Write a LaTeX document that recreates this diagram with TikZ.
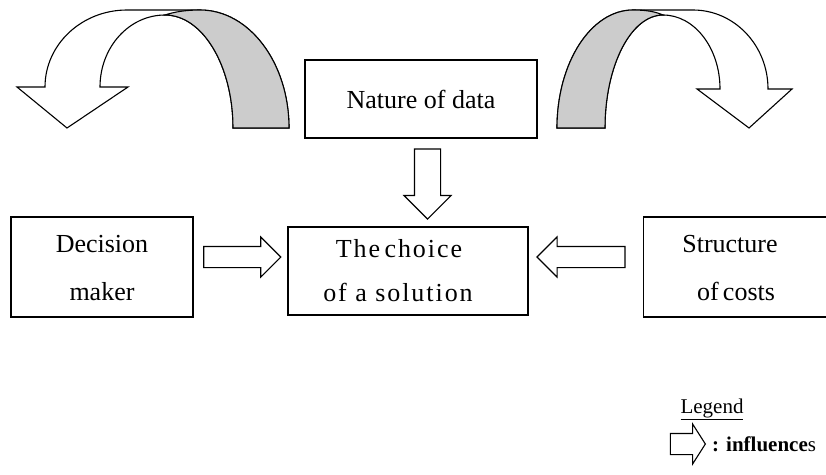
\documentclass[tikz,border=0pt]{standalone}
\usepackage{fontspec}
\setmainfont{Liberation Serif}
\usetikzlibrary{shapes.arrows,calc}
\definecolor{bandgray}{RGB}{204,204,204}
\tikzset{
  stroke/.style={line width=1.1pt, line join=miter},
  box/.style={stroke, draw, fill=white, inner sep=0pt},
  label/.style={inner sep=0pt, anchor=base, font=\fontsize{26}{30}\selectfont},
  widelabel/.style={label, font=\fontsize{26}{30}\selectfont\addfontfeature{LetterSpace=7.5}},
  legendtext/.style={inner sep=0pt, anchor=base west, font=\fontsize{21}{25}\selectfont},
  blockarrow/.style={stroke, draw, fill=white, single arrow, inner xsep=0pt, inner ysep=10pt,
    single arrow head extend=9.5pt, single arrow tip angle=90},
  backband/.style={stroke, draw, fill=bandgray},
  frontband/.style={stroke, draw, fill=white}
}
\begin{document}
\begin{tikzpicture}[x=1pt, y=-1pt]
\useasboundingbox (0,0) rectangle (826,474);
\clip (0,0) rectangle (826,474);

% boxes
\node[box, minimum width=232pt, minimum height=78pt] (nature) at (421,99) {};
\node[box, minimum width=182pt, minimum height=100pt] (dm) at (102,267) {};
\node[box, minimum width=240pt, minimum height=88pt] (choice) at (408,271) {};
\node[box, minimum width=190pt, minimum height=100pt, anchor=west] (costs) at (643,267) {};

% box texts
\node[label] (natureT) at (421,108) {Nature of data};
\node[label] (dmA) at (102,252) {Decision};
\node[label] (dmB) at (102,300) {maker};
\node[widelabel] (choiceA) at (399,257) {The\,choice};
\node[widelabel] (choiceB) at (398,301) {of a solution};
\node[label] (costsA) at (730,252) {Structure};
\node[label] (costsB) at (736,300) {of\,costs};

% straight influence arrows
\node[blockarrow, minimum height=77pt] (a1) at ($(dm.east)!0.5!(choice.west)+(-3.5,-12)$) {};
\node[blockarrow, minimum height=88pt, shape border rotate=180] (a2) at ($(choice.east)!0.5!(costs.west)+(0.5,-12)$) {};
\node[blockarrow, minimum height=70pt, inner xsep=12.5pt, inner ysep=0pt, single arrow head extend=10.5pt, shape border rotate=270]
  (a3) at ($(nature.south)!0.5!(choice.north)+(13,-5)$) {};

% left curved arrow: back band, then front band with head
\draw[frontband] (17,87) -- (67,128) -- (128,87) -- (100,87)
  .. controls (100,47.2) and (129.1,15) .. (165,15)
  .. controls (202.6,15) and (233,65.6) .. (233,128)
  -- (289,128)
  .. controls (289,62.8) and (249.2,10) .. (200,10)
  -- (127,10)
  .. controls (81.7,10) and (45,44.5) .. (45,87) -- cycle;
\draw[backband] (233,128) -- (289,128)
  .. controls (289,62.8) and (249.2,10) .. (200,10)
  .. controls (185,10) and (174,12) .. (165,15)
  .. controls (202.6,15) and (233,65.6) .. (233,128) -- cycle;

% right curved arrow
\draw[frontband] (792,89) -- (749,128) -- (697,89) -- (720,89)
  .. controls (720,48.1) and (694.5,15) .. (663,15)
  .. controls (631,15) and (605,65.6) .. (605,128)
  -- (557,128)
  .. controls (557,62.8) and (591,10) .. (633,10)
  -- (693,10)
  .. controls (734.4,10) and (768,45.4) .. (768,89) -- cycle;
\draw[backband] (605,128) -- (557,128)
  .. controls (557,62.8) and (591,10) .. (633,10)
  .. controls (648,10) and (656,12) .. (663,15)
  .. controls (631,15) and (605,65.6) .. (605,128) -- cycle;

% legend
\node[legendtext, anchor=base] (legendT) at (712,413) {\underline{Legend}};
\node[blockarrow, minimum height=35pt, single arrow tip angle=115, anchor=east] (legA) at (706,444) {};
\node[legendtext] (legB) at ($(legA.east)+(6,7)$) {\textbf{: influence}s};
\end{tikzpicture}
\end{document}
